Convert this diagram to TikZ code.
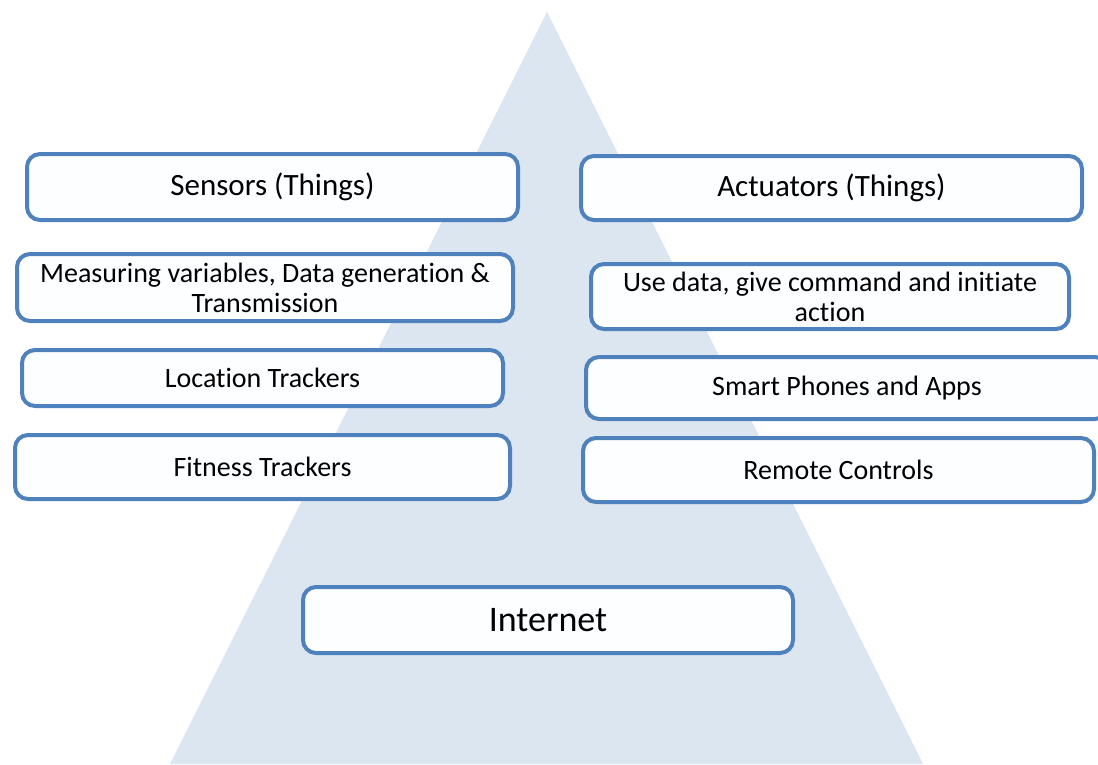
\documentclass[tikz,border=0pt]{standalone}
\usepackage{fontspec}
\setmainfont{Carlito}[RawFeature=-liga]
\definecolor{tri}{HTML}{DCE6F1}
\definecolor{bord}{HTML}{4F81BD}
\definecolor{boxfill}{HTML}{FDFEFF}
\begin{document}
\begin{tikzpicture}[x=1pt,y=1pt,
  itembox/.style={draw=bord,line width=4pt,rounded corners=13pt,fill=boxfill,
    align=center,inner sep=0pt,font=\fontsize{28}{30}\selectfont},
  headbox/.style={itembox,font=\fontsize{31}{34}\selectfont},
]
\useasboundingbox (0,0) rectangle (1098,-764);
\clip (0,0) rectangle (1098,-764);
\fill[white] (0,0) rectangle (1098,-764);
\fill[tri] (547,-12) -- (923,-764) -- (170,-764) -- cycle;
\node[headbox,minimum width=491pt,minimum height=66pt] (sens) at (272.5,-187) {Sensors (Things)};
\node[headbox,minimum width=501pt,minimum height=64pt] (act) at (831.5,-188) {Actuators (Things)};
\node[itembox,minimum width=496pt,minimum height=67pt] (meas) at (265,-287.5) {Measuring variables, Data generation \&\\Transmission};
\node[itembox,minimum width=478pt,minimum height=65pt] (use) at (830,-296.5) {Use data, give command and initiate\\action};
\node[itembox,minimum width=481pt,minimum height=56pt] (loc) at (262.5,-378) {Location Trackers};
\node[itembox,minimum width=522pt,minimum height=62pt] (smart) at (847,-388) {Smart Phones and Apps};
\node[itembox,minimum width=495pt,minimum height=64pt] (fit) at (262.5,-467) {Fitness Trackers};
\node[itembox,minimum width=511pt,minimum height=64pt] (rem) at (838.5,-470) {Remote Controls};
\node[itembox,minimum width=490pt,minimum height=66pt,font=\fontsize{36}{40}\selectfont] (net) at (548,-620) {Internet};
\end{tikzpicture}
\end{document}
